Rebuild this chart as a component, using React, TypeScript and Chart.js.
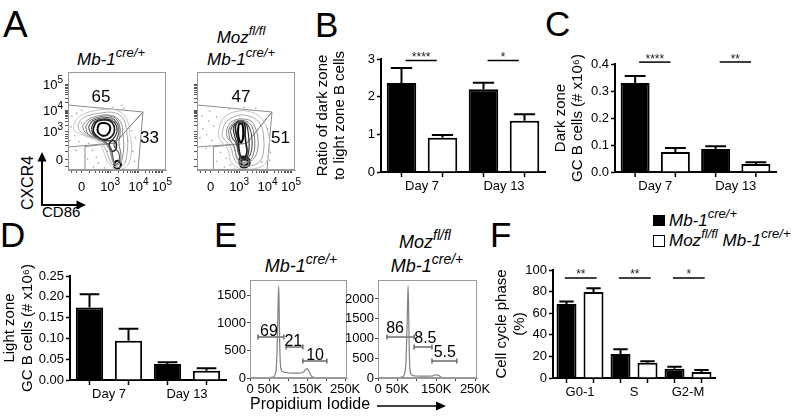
import React, { useEffect, useRef } from 'react';
import { Chart, registerables } from 'chart.js';
Chart.register(...registerables);

const SANS = "'Liberation Sans', Arial, Helvetica, sans-serif";
Chart.defaults.font.family = SANS;

// ================= DATA =================
// Panel A – flow cytometry (display units 0-100 on both axes)
const A_X_MAJOR = [14, 43, 72, 96];
const A_Y_MAJOR = [11, 39, 61, 87];
const A_EXP = [null, 3, 4, 5];
const A_X_TICKS = [4, 9, 14, 22, 28, 32, 35.5, 38, 40, 41.6, 43, 51.7, 56.8, 60.5, 63.3, 65.6, 67.5, 69.2, 70.7, 72, 79.2, 83.5, 86.4, 88.8, 90.7, 92.3, 93.7, 94.9, 96];
const A_Y_TICKS = [4, 11, 19, 25, 29, 32, 34.5, 36.5, 39, 45.6, 49.5, 52.2, 54.4, 56.1, 57.6, 58.9, 60, 61, 68.8, 73.4, 76.7, 79.2, 81.2, 83, 84.5, 85.8, 87];

const A1_CONTOURS: number[][][] = [
  [[6,46],[10,53],[18,58],[30,61],[42,62],[52,60],[58,55],[62,46],[63,36],[65,25],[64,14],[61,5],[55,1],[48,1],[42,6],[38,14],[35,22],[30,29],[22,33],[12,37],[6,41],[6,46]],
  [[10,46],[14,52],[22,56],[33,58],[44,59],[53,56],[58,49],[60,38],[61,27],[60,16],[58,7],[53,3],[47,4],[43,9],[40,17],[36,25],[30,31],[20,35],[12,40],[10,46]],
  [[15,45],[20,51],[30,55],[42,56],[50,53],[55,46],[56,36],[57,26],[56,15],[54,8],[50,5],[46,8],[44,15],[41,23],[35,29],[25,34],[17,39],[15,45]],
  [[18,44],[22,50],[32,54],[43,55],[50,51],[53,43],[53,35],[52,27],[54,16],[53,9],[49,6],[46,10],[44,18],[40,26],[32,31],[21,36],[18,44]],
  [[21,44],[25,50],[34,53],[44,53],[50,48],[52,40],[50,32],[47,25],[52,17],[52,9],[48,5],[46,12],[44,22],[38,29],[29,33],[23,38],[21,44]],
  [[24,43],[27,49],[35,52],[44,51],[49,46],[50,39],[47,33],[44,30],[38,30],[30,32],[25,38],[24,43]],
  [[26,43],[29,49],[36,51],[43,50],[47,45],[47,38],[43,33],[36,31],[30,34],[26,39],[26,43]],
  [[30,42],[32,47],[37,48],[42,46],[43,41],[40,36],[35,35],[31,38],[30,42]],
  [[42,27],[45,30],[49,28],[49,22],[46,19],[43,21],[42,27]],
  [[47,6],[49,9],[52,9],[54,5],[52,2],[48,2],[47,6]],
];
const A2_CONTOURS: number[][][] = [
  [[22,40],[25,50],[32,57],[42,60],[52,60],[62,56],[68,50],[72,40],[74,28],[73,16],[70,7],[62,2],[50,1],[40,3],[34,10],[32,20],[26,28],[22,34],[22,40]],
  [[26,40],[29,48],[35,53],[44,56],[53,55],[61,51],[66,44],[68,33],[68,20],[65,10],[58,5],[49,4],[41,7],[37,14],[35,22],[30,29],[26,34],[26,40]],
  [[30,40],[33,47],[39,51],[47,52],[55,50],[59,44],[62,34],[62,22],[59,13],[53,8],[46,7],[41,11],[39,19],[36,27],[31,33],[30,40]],
  [[32,40],[35,46],[41,50],[49,50],[55,46],[58,38],[59,27],[58,18],[55,11],[49,8],[44,9],[40,15],[38,24],[34,30],[32,40]],
  [[34,40],[37,46],[43,49],[50,48],[54,42],[56,33],[56,23],[54,15],[50,10],[45,11],[42,18],[40,27],[36,33],[34,40]],
  [[37,42],[39,47],[45,49],[50,47],[52,40],[53,31],[53,21],[51,13],[47,11],[44,14],[42,22],[40,30],[38,36],[37,42]],
  [[39,44],[41,49],[46,50],[49,45],[49,36],[50,27],[51,19],[49,13],[45,13],[43,20],[42,30],[40,37],[39,44]],
  [[42,42],[43,47],[46,47],[47,42],[47,33],[45,28],[43,31],[42,37],[42,42]],
  [[43,8],[44,13],[51,13],[54,8],[51,3],[45,3],[43,8]],
  [[45,8],[46,11],[50,11],[52,8],[50,5],[46,5],[45,8]],
];
const A1_DOTS = [[3,44],[7,35],[11,29],[4,55],[14,61],[21,27],[25,20],[29,13],[31,7],[26,3],[20,11],[24,41],[61,30],[66,19],[65,40],[68,9],[57,63],[46,64],[9,58],[37,2],[40,19],[55,66],[2,30],[8,20],[14,48],[69,33],[36,63],[19,45]];
const A2_DOTS = [[6,42],[10,36],[15,30],[5,55],[12,50],[18,24],[24,18],[30,12],[34,5],[28,3],[20,9],[17,45],[70,52],[72,42],[76,30],[75,18],[60,63],[48,64],[13,60],[38,1],[3,33],[9,22],[66,8],[74,10],[33,62],[20,54]];
const A1_GATES = [
  [[0,66.3],[76.5,59.2],[48,27.5],[0,23.5]],
  [[17.3,0],[17.3,23.9],[48,27.5],[76.5,59.2],[71.4,0]],
];
const A2_GATES = [
  [[0,66.3],[76.5,59.2],[50.7,27.2],[0,23.5]],
  [[16.7,0],[16.7,23.8],[50.7,27.2],[76.5,59.2],[71.4,0]],
];
const A1_GATE_TEXT = ['65', '33'];
const A1_GATE_TEXT_X = [33.7, 83.2];
const A1_GATE_TEXT_Y = [69.4, 27.6];
const A2_GATE_TEXT = ['47', '51'];
const A2_GATE_TEXT_X = [44.9, 85.2];
const A2_GATE_TEXT_Y = [69.4, 27.6];

// Panel B
const DAYS = ['Day 7', 'Day 13'];
const B_CTRL = [2.36, 2.2];
const B_CTRL_ERR = [2.76, 2.37];
const B_MOZ = [0.91, 1.36];
const B_MOZ_ERR = [0.98, 1.53];
const B_SIG = ['****', '*'];
const B_Y_TICKS = [0, 1, 2, 3];

// Panel C
const C_CTRL = [0.33, 0.085];
const C_CTRL_ERR = [0.356, 0.095];
const C_MOZ = [0.074, 0.03];
const C_MOZ_ERR = [0.089, 0.036];
const C_SIG = ['****', '**'];
const C_Y_TICKS = [0, 0.1, 0.2, 0.3, 0.4];

// Panel D
const D_CTRL = [0.174, 0.0385];
const D_CTRL_ERR = [0.206, 0.0425];
const D_MOZ = [0.0945, 0.0224];
const D_MOZ_ERR = [0.123, 0.028];
const D_Y_TICKS = [0, 0.05, 0.1, 0.15, 0.2, 0.25];

// Panel E – PI histograms (x in thousands)
const E_X_TICKS = [0, 50, 100, 150, 200, 250];
const E_X_LABELS = ['0', '50K', '', '150K', '', '250K'];
const E1_Y_TICKS = [0, 500, 1000, 1500];
const E2_Y_TICKS = [0, 500, 1000, 1500, 2000];
const E1_PI = [0, 20, 40, 55, 62, 66, 69, 71, 72.5, 74, 75.5, 77, 78, 79, 80, 82, 85, 90, 100, 110, 120, 130, 138, 143, 147, 150, 153, 157, 160, 165, 175, 200, 255];
const E1_COUNT = [0, 2, 5, 10, 25, 60, 180, 450, 900, 1400, 1670, 1100, 650, 380, 240, 150, 120, 105, 95, 90, 88, 90, 100, 125, 160, 170, 150, 100, 50, 15, 5, 0, 0];
const E2_PI = [0, 20, 40, 55, 63, 68, 72, 74, 76, 77.5, 79, 80, 81, 82, 84, 87, 90, 100, 120, 140, 147, 152, 157, 162, 170, 200, 255];
const E2_COUNT = [0, 3, 6, 12, 30, 90, 400, 1000, 1800, 2330, 1700, 1000, 500, 250, 120, 80, 60, 50, 45, 50, 75, 80, 60, 25, 8, 0, 0];
const E1_GATE_FROM = [21, 95, 139];
const E1_GATE_TO = [89, 139, 202];
const E1_GATE_Y = [745, 563, 309];
const E1_GATE_TEXT = ['69', '21', '10'];
const E1_GATE_TEXT_X = [50, 114, 171];
const E2_GATE_FROM = [23, 93, 139];
const E2_GATE_TO = [93, 139, 203];
const E2_GATE_Y = [1037, 784, 430];
const E2_GATE_TEXT = ['86', '8.5', '5.5'];
const E2_GATE_TEXT_X = [44, 122, 172];

// Panel F
const PHASES = ['G0-1', 'S', 'G2-M'];
const F_CTRL = [68.6, 22.2, 8.6];
const F_CTRL_ERR = [70.8, 26.6, 10.4];
const F_MOZ = [79.6, 14.1, 5.6];
const F_MOZ_ERR = [83.2, 15.6, 7.4];
const F_SIG = ['**', '**', '*'];
const F_Y_TICKS = [0, 20, 40, 60, 80, 100];

// ================= STYLE =================
const CONTOUR_COLORS = ['#c2c2c2', '#a5a5a5', '#8a8a8a', '#6e6e6e', '#505050', '#333', '#1a1a1a', '#000', '#222', '#000'];
const CONTOUR_WIDTHS = [1, 1, 1, 1, 1.1, 1.2, 1.7, 2, 1.6, 2];

// ================= PLUGIN =================
function makeExtras(cfg: any) {
  return {
    id: 'extras',
    afterDatasetsDraw(chart: any) {
      const ctx = chart.ctx;
      const a = chart.chartArea;
      const xs = chart.scales.x;
      const ys = chart.scales.y;
      ctx.save();
      if (cfg.frame) {
        ctx.strokeStyle = cfg.frame;
        ctx.lineWidth = 1;
        const l = Math.round(a.left) + 0.5, t = Math.round(a.top) + 0.5;
        const r = Math.round(a.right) - 0.5, b = Math.round(a.bottom) - 0.5;
        ctx.strokeRect(l, t, r - l, b - t);
      }
      if (cfg.barTicks) {
        ctx.strokeStyle = '#000';
        ctx.lineWidth = 1.5;
        chart.data.datasets.forEach((_: any, di: number) => {
          chart.getDatasetMeta(di).data.forEach((el: any) => {
            ctx.beginPath();
            ctx.moveTo(el.x, a.bottom);
            ctx.lineTo(el.x, a.bottom + 5);
            ctx.stroke();
          });
        });
      }
      chart.data.datasets.forEach((ds: any, di: number) => {
        if (!ds.errTop) return;
        const meta = chart.getDatasetMeta(di);
        ctx.strokeStyle = '#000';
        ctx.lineWidth = 2;
        meta.data.forEach((el: any, i: number) => {
          const top = ys.getPixelForValue(ds.errTop[i]);
          const hw = el.width * 0.36;
          ctx.beginPath();
          ctx.moveTo(el.x, el.y);
          ctx.lineTo(el.x, top);
          ctx.moveTo(el.x - hw, top);
          ctx.lineTo(el.x + hw, top);
          ctx.stroke();
        });
      });
      if (cfg.sig) {
        const s = cfg.sig;
        s.labels.forEach((lab: string, i: number) => {
          const x1 = xs.getPixelForValue(i + s.from);
          const x2 = xs.getPixelForValue(i + s.to);
          const y = ys.getPixelForValue(s.y);
          ctx.strokeStyle = '#000';
          ctx.lineWidth = 1.5;
          ctx.beginPath();
          ctx.moveTo(x1, y);
          ctx.lineTo(x2, y);
          ctx.stroke();
          ctx.fillStyle = '#222';
          ctx.font = `12px ${SANS}`;
          ctx.textAlign = 'center';
          ctx.textBaseline = 'alphabetic';
          ctx.fillText(lab, (x1 + x2) / 2, y + 0.5);
        });
      }
      if (cfg.texts) {
        ctx.fillStyle = '#000';
        ctx.textAlign = 'center';
        ctx.textBaseline = 'alphabetic';
        cfg.texts.forEach((t: any) => {
          ctx.font = `${t.size}px ${SANS}`;
          ctx.fillText(t.text, xs.getPixelForValue(t.x), ys.getPixelForValue(t.y) + (t.dy || 0));
        });
      }
      if (cfg.exp) {
        const e = cfg.exp;
        ctx.fillStyle = '#000';
        ctx.textBaseline = 'alphabetic';
        ctx.textAlign = 'left';
        const draw = (x: number, base: number, exp: any, align: string) => {
          const bt = exp == null ? '0' : '10';
          ctx.font = `13px ${SANS}`;
          const bw = ctx.measureText(bt).width;
          let ew = 0;
          if (exp != null) {
            ctx.font = `10px ${SANS}`;
            ew = ctx.measureText(String(exp)).width;
          }
          const sx = align === 'center' ? x - (bw + ew) / 2 : x - bw - ew;
          ctx.font = `13px ${SANS}`;
          ctx.fillText(bt, sx, base);
          if (exp != null) {
            ctx.font = `10px ${SANS}`;
            ctx.fillText(String(exp), sx + bw, base - 6);
          }
        };
        if (e.x) e.x.forEach((v: number, i: number) => draw(xs.getPixelForValue(v), a.bottom + 21, e.exp[i], 'center'));
        if (e.y) e.y.forEach((v: number, i: number) => draw(a.left - 5, ys.getPixelForValue(v) + 4.7, e.exp[i], 'right'));
      }
      ctx.restore();
    },
  };
}

// ================= CONFIG BUILDERS =================
function barChart(o: any) {
  const ds = (label: string, data: number[], err: number[], fill: string) => ({
    label, data, errTop: err, backgroundColor: fill, borderColor: '#000', borderWidth: 2,
    barPercentage: o.barPct, categoryPercentage: 1, borderSkipped: 'start',
  });
  return {
    type: 'bar',
    data: {
      labels: o.labels,
      datasets: [
        ds('Mb-1 cre/+', o.ctrl, o.ctrlErr, '#000'),
        ds('Moz fl/fl Mb-1 cre/+', o.moz, o.mozErr, '#fff'),
      ],
    },
    options: {
      responsive: false, animation: false, devicePixelRatio: 1,
      layout: { padding: { top: o.padTop, right: 2, left: 0, bottom: 0 }, autoPadding: false },
      plugins: { legend: { display: false }, tooltip: { enabled: false } },
      scales: {
        x: {
          type: 'category', offset: true, z: 1,
          grid: { display: true, drawOnChartArea: false, drawTicks: true, tickLength: 5, tickColor: 'rgba(0,0,0,0)', offset: true },
          border: { display: true, color: '#000', width: 2 },
          ticks: { color: '#000', font: { family: SANS, size: 13 }, padding: 2, maxRotation: 0, autoSkip: false },
          afterFit: (s: any) => { s.height = 30; },
        },
        y: {
          type: 'linear', min: o.yTicks[0], max: o.yTicks[o.yTicks.length - 1],
          afterBuildTicks: (s: any) => { s.ticks = o.yTicks.map((v: number) => ({ value: v })); },
          grid: { display: true, drawOnChartArea: false, drawTicks: true, tickLength: 4, tickColor: '#000', tickWidth: 1.5 },
          border: { display: true, color: '#000', width: 2 },
          ticks: { color: '#000', font: { family: SANS, size: 13 }, padding: 2, callback: (v: number) => Number(v).toFixed(o.dec) },
          title: { display: true, text: o.title, color: '#000', font: { family: SANS, size: 15, lineHeight: o.titleLH }, padding: { top: o.titlePad, bottom: 0 } },
          afterFit: (s: any) => { s.width = o.wy; },
        },
      },
    },
    plugins: [makeExtras({ barTicks: true, sig: o.sig })],
  };
}

function flowChart(o: any) {
  const datasets: any[] = [];
  datasets.push({ data: o.dots.map((p: number[]) => ({ x: p[0], y: p[1] })), showLine: false, pointRadius: 0.8, pointBackgroundColor: '#a0a0a0', pointBorderWidth: 0 });
  o.contours.forEach((c: number[][], i: number) => datasets.push({
    data: c.map((p) => ({ x: p[0], y: p[1] })), showLine: true, borderColor: CONTOUR_COLORS[i], borderWidth: CONTOUR_WIDTHS[i], pointRadius: 0, tension: 0.4, fill: false,
  }));
  o.gates.forEach((g: number[][]) => datasets.push({
    data: g.map((p) => ({ x: p[0], y: p[1] })), showLine: true, borderColor: '#8c8c8c', borderWidth: 1, pointRadius: 0, tension: 0, fill: false,
  }));
  const texts = o.gateText.map((t: string, i: number) => ({ text: t, x: o.gateTextX[i], y: o.gateTextY[i], size: 17 }));
  const axis = (ticks: number[], fit: (s: any) => void) => ({
    type: 'linear', min: 0, max: 100,
    afterBuildTicks: (s: any) => { s.ticks = ticks.map((v) => ({ value: v })); },
    grid: { display: true, drawOnChartArea: false, drawTicks: true, tickLength: 3, tickColor: '#555', tickWidth: 1 },
    border: { display: true, color: '#999', width: 1 },
    ticks: { display: false },
    afterFit: fit,
  });
  return {
    type: 'scatter',
    data: { datasets },
    options: {
      responsive: false, animation: false, devicePixelRatio: 1,
      layout: { padding: { top: 4, right: 8, left: 0, bottom: 0 }, autoPadding: false },
      plugins: { legend: { display: false }, tooltip: { enabled: false } },
      scales: {
        x: axis(A_X_TICKS, (s: any) => { s.height = 25; }),
        y: axis(A_Y_TICKS, (s: any) => { s.width = 30; }),
      },
    },
    plugins: [makeExtras({ frame: '#999', texts, exp: { x: A_X_MAJOR, y: o.showY ? A_Y_MAJOR : null, exp: A_EXP } })],
  };
}

function histChart(o: any) {
  const datasets: any[] = [{
    data: o.pi.map((x: number, i: number) => ({ x, y: o.count[i] })), borderColor: '#808080', borderWidth: 1.2,
    pointRadius: 0, cubicInterpolationMode: 'monotone', fill: false,
  }];
  o.gFrom.forEach((f: number, i: number) => datasets.push({
    data: [{ x: f, y: o.gY[i] }, { x: o.gTo[i], y: o.gY[i] }], borderColor: '#6a6a6a', borderWidth: 1.5,
    pointStyle: 'line', rotation: 90, pointRadius: 2.5, pointBorderColor: '#6a6a6a', pointBorderWidth: 1.5, fill: false,
  }));
  const texts = o.gText.map((t: string, i: number) => ({ text: t, x: o.gTextX[i], y: o.gY[i], size: 16, dy: o.dy }));
  return {
    type: 'line',
    data: { datasets },
    options: {
      responsive: false, animation: false, devicePixelRatio: 1,
      layout: { padding: { top: 12, right: 18, left: 0, bottom: 0 }, autoPadding: false },
      plugins: { legend: { display: false }, tooltip: { enabled: false } },
      scales: {
        x: {
          type: 'linear', min: 0, max: 255,
          afterBuildTicks: (s: any) => { s.ticks = E_X_TICKS.map((v) => ({ value: v })); },
          grid: { display: true, drawOnChartArea: false, drawTicks: true, tickLength: 3, tickColor: '#444' },
          border: { display: true, color: '#999', width: 1 },
          ticks: { color: '#000', font: { family: SANS, size: 13 }, padding: 1, maxRotation: 0, autoSkip: false, callback: (_v: any, i: number) => E_X_LABELS[i] },
          afterFit: (s: any) => { s.height = 20; },
        },
        y: {
          type: 'linear', min: 0, max: o.yMax,
          afterBuildTicks: (s: any) => { s.ticks = o.yTicks.map((v: number) => ({ value: v })); },
          grid: { display: true, drawOnChartArea: false, drawTicks: true, tickLength: 3, tickColor: '#444' },
          border: { display: true, color: '#999', width: 1 },
          ticks: { color: '#000', font: { family: SANS, size: 13 }, padding: 1, callback: (v: number) => String(v) },
          afterFit: (s: any) => { s.width = 40; },
        },
      },
    },
    plugins: [makeExtras({ frame: '#999', texts })],
  };
}

// ================= COMPONENTS =================
function ChartBox({ left, top, width, height, make }: any) {
  const ref = useRef<HTMLCanvasElement>(null);
  useEffect(() => {
    const chart = new Chart(ref.current as HTMLCanvasElement, make());
    return () => chart.destroy();
  }, []);
  return <canvas ref={ref} width={width} height={height} style={{ position: 'absolute', left, top, width, height }} />;
}

function Txt({ x, y, size, children, align = 'left', italic = false }: any) {
  const tx = align === 'center' ? 'translateX(-50%)' : align === 'right' ? 'translateX(-100%)' : 'none';
  return (
    <div style={{ position: 'absolute', left: x, top: y - 0.8465 * size, fontFamily: SANS, fontSize: size, lineHeight: `${size}px`, whiteSpace: 'nowrap', fontStyle: italic ? 'italic' : 'normal', transform: tx, color: '#000' }}>
      {children}
    </div>
  );
}
function Sup({ size, children }: any) {
  return <span style={{ fontSize: size, position: 'relative', top: -0.55 * size, verticalAlign: 'baseline' }}>{children}</span>;
}

export default function App() {
  return (
    <div style={{ position: 'absolute', left: 0, top: 0, width: 793, height: 416, background: '#fff', overflow: 'hidden' }}>
      <svg width={793} height={416} style={{ position: 'absolute', left: 0, top: 0 }}>
        <line x1={42} y1={206} x2={42} y2={160} stroke="#000" strokeWidth={2} />
        <polygon points="42,152 37.5,161.5 46.5,161.5" fill="#000" />
        <line x1={41} y1={205} x2={78} y2={205} stroke="#000" strokeWidth={2} />
        <polygon points="86,205 76.5,200.5 76.5,209.5" fill="#000" />
        <line x1={377} y1={406} x2={438} y2={406} stroke="#000" strokeWidth={1.5} />
        <polygon points="446,406 436,401.5 436,410.5" fill="#000" />
      </svg>

      {/* Panel letters */}
      <Txt x={3} y={37} size={37}>A</Txt>
      <Txt x={315} y={37} size={35}>B</Txt>
      <Txt x={545} y={36} size={35}>C</Txt>
      <Txt x={0} y={247} size={35}>D</Txt>
      <Txt x={214} y={247} size={35}>E</Txt>
      <Txt x={490} y={247} size={35}>F</Txt>

      {/* Panel A */}
      <Txt x={77} y={65} size={17} italic>Mb-1<Sup size={13}>cre/+</Sup></Txt>
      <Txt x={241} y={43} size={17} italic align="center">Moz<Sup size={13}>fl/fl</Sup></Txt>
      <Txt x={241} y={65} size={17} italic align="center">Mb-1<Sup size={13}>cre/+</Sup></Txt>
      <div style={{ position: 'absolute', left: 28, top: 183, transform: 'translate(-50%,-50%) rotate(-90deg)', fontFamily: SANS, fontSize: 16, lineHeight: '16px', whiteSpace: 'nowrap' }}>CXCR4</div>
      <Txt x={42} y={217} size={15}>CD86</Txt>
      <ChartBox left={38} top={68} width={136} height={127} make={() => flowChart({ contours: A1_CONTOURS, dots: A1_DOTS, gates: A1_GATES, gateText: A1_GATE_TEXT, gateTextX: A1_GATE_TEXT_X, gateTextY: A1_GATE_TEXT_Y, showY: true })} />
      <ChartBox left={167} top={68} width={136} height={127} make={() => flowChart({ contours: A2_CONTOURS, dots: A2_DOTS, gates: A2_GATES, gateText: A2_GATE_TEXT, gateTextX: A2_GATE_TEXT_X, gateTextY: A2_GATE_TEXT_Y, showY: false })} />

      {/* Panel B */}
      <ChartBox left={314} top={45} width={233} height={157} make={() => barChart({
        labels: DAYS, ctrl: B_CTRL, ctrlErr: B_CTRL_ERR, moz: B_MOZ, mozErr: B_MOZ_ERR, yTicks: B_Y_TICKS, dec: 0,
        title: ['Ratio of dark zone', 'to light zone B cells'], titleLH: 1.1, titlePad: 0.75, wy: 67, padTop: 14, barPct: 0.72,
        sig: { labels: B_SIG, from: -0.2, to: 0.18, y: 2.96 },
      })} />

      {/* Panel C */}
      <ChartBox left={551} top={50} width={227} height={152} make={() => barChart({
        labels: DAYS, ctrl: C_CTRL, ctrlErr: C_CTRL_ERR, moz: C_MOZ, mozErr: C_MOZ_ERR, yTicks: C_Y_TICKS, dec: 1,
        title: ['Dark zone', 'GC B cells (# x10\u2076)'], titleLH: 1.13, titlePad: 1.5, wy: 64, padTop: 14, barPct: 0.72,
        sig: { labels: C_SIG, from: -0.2, to: 0.19, y: 0.407 },
      })} />

      {/* Panel D */}
      <ChartBox left={0} top={262} width={228} height={148} make={() => barChart({
        labels: DAYS, ctrl: D_CTRL, ctrlErr: D_CTRL_ERR, moz: D_MOZ, mozErr: D_MOZ_ERR, yTicks: D_Y_TICKS, dec: 2,
        title: ['Light zone', 'GC B cells (# x10\u2076)'], titleLH: 1.25, titlePad: 0, wy: 70, padTop: 14, barPct: 0.7,
        sig: null,
      })} />

      {/* Panel E */}
      <Txt x={301} y={272} size={18} italic align="center">Mb-1<Sup size={14}>cre/+</Sup></Txt>
      <Txt x={425} y={248} size={18} italic align="center">Moz<Sup size={14}>fl/fl</Sup></Txt>
      <Txt x={427} y={272} size={18} italic align="center">Mb-1<Sup size={14}>cre/+</Sup></Txt>
      <ChartBox left={210} top={268} width={155} height={130} make={() => histChart({
        pi: E1_PI, count: E1_COUNT, yMax: 1780, yTicks: E1_Y_TICKS,
        gFrom: E1_GATE_FROM, gTo: E1_GATE_TO, gY: E1_GATE_Y, gText: E1_GATE_TEXT, gTextX: E1_GATE_TEXT_X, dy: -1,
      })} />
      <ChartBox left={338} top={268} width={157} height={130} make={() => histChart({
        pi: E2_PI, count: E2_COUNT, yMax: 2480, yTicks: E2_Y_TICKS,
        gFrom: E2_GATE_FROM, gTo: E2_GATE_TO, gY: E2_GATE_Y, gText: E2_GATE_TEXT, gTextX: E2_GATE_TEXT_X, dy: -4,
      })} />
      <Txt x={250} y={410} size={16}>Propidium Iodide</Txt>

      {/* Panel F */}
      <div style={{ position: 'absolute', left: 653, top: 215, width: 12, height: 11, background: '#000' }} />
      <div style={{ position: 'absolute', left: 653, top: 235, width: 12, height: 12, border: '1.5px solid #000', boxSizing: 'border-box', background: '#fff' }} />
      <Txt x={669} y={226} size={17} italic>Mb-1<Sup size={13}>cre/+</Sup></Txt>
      <Txt x={669} y={246} size={17} italic>Moz<Sup size={13}>fl/fl</Sup> Mb-1<Sup size={13}>cre/+</Sup></Txt>
      <ChartBox left={492} top={256} width={225} height={152} make={() => barChart({
        labels: PHASES, ctrl: F_CTRL, ctrlErr: F_CTRL_ERR, moz: F_MOZ, mozErr: F_MOZ_ERR, yTicks: F_Y_TICKS, dec: 0,
        title: ['Cell cycle phase', '(%)'], titleLH: 1.2, titlePad: 1, wy: 61, padTop: 14, barPct: 0.74,
        sig: { labels: F_SIG, from: -0.28, to: 0.31, y: 92.6 },
      })} />
    </div>
  );
}
